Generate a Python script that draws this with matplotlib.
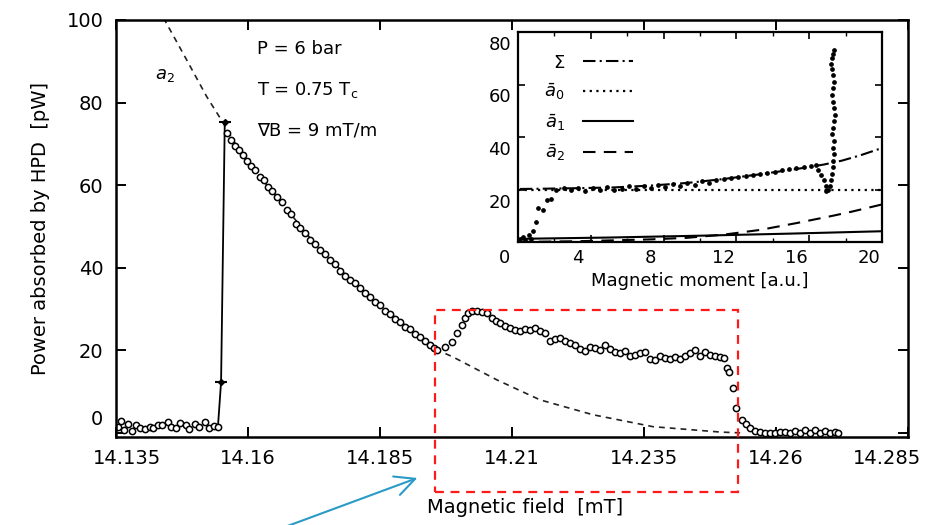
import numpy as np
import matplotlib
matplotlib.use("Agg")
import matplotlib.pyplot as plt
from matplotlib.patches import Rectangle, FancyArrowPatch
from matplotlib.transforms import ScaledTranslation

plt.rcParams["font.family"] = ["DejaVu Sans"]

# --- main plot : power vs magnetic field ---
# baseline before the HPD forms
field_lo = [14.1354, 14.1359, 14.1365, 14.1373, 14.1380, 14.1388, 14.1395, 14.1405,
            14.1414, 14.1421, 14.1429, 14.1438, 14.1448, 14.1455, 14.1463, 14.1472,
            14.1482, 14.1489, 14.1499, 14.1508, 14.1518, 14.1527, 14.1535, 14.1543]
power_lo = [1.5, 2.8, 0.6, 2.2, 0.4, 1.8, 1.2, 1.0, 1.4, 1.1, 1.9, 2.0,
            2.6, 1.5, 1.1, 2.4, 1.9, 1.0, 2.2, 1.5, 2.7, 1.2, 1.7, 1.4]

# jump
jump_field = [14.1543, 14.1549, 14.1556]
jump_power = [1.4, 12.3, 75.3]

# HPD branch
field_hi = [14.1560, 14.1568, 14.1575, 14.1583, 14.1591, 14.1598, 14.1606, 14.1613,
            14.1623, 14.1630, 14.1638, 14.1645, 14.1655, 14.1664, 14.1674, 14.1681,
            14.1691, 14.1698, 14.1708, 14.1717, 14.1727, 14.1736, 14.1746, 14.1755,
            14.1765, 14.1774, 14.1784, 14.1793, 14.1803, 14.1812, 14.1822, 14.1831,
            14.1841, 14.1850, 14.1859, 14.1869, 14.1878, 14.1888, 14.1897, 14.1907,
            14.1916, 14.1926, 14.1935, 14.1945, 14.1952, 14.1958,
            14.1973, 14.1986, 14.1996, 14.2005, 14.2011, 14.2017, 14.2024, 14.2034,
            14.2043, 14.2053, 14.2062, 14.2070, 14.2077, 14.2087, 14.2096, 14.2106,
            14.2115, 14.2125, 14.2134, 14.2144, 14.2153, 14.2162, 14.2172, 14.2181,
            14.2191, 14.2200, 14.2210, 14.2219, 14.2229, 14.2238, 14.2248, 14.2257,
            14.2267, 14.2276, 14.2286, 14.2295, 14.2305, 14.2314, 14.2323, 14.2333,
            14.2342, 14.2352, 14.2361, 14.2371, 14.2380, 14.2390, 14.2399, 14.2409,
            14.2418, 14.2428, 14.2437, 14.2447, 14.2456, 14.2466, 14.2475, 14.2484,
            14.2494, 14.2502, 14.2507, 14.2511, 14.2519, 14.2524, 14.2536, 14.2543,
            14.2551, 14.2560, 14.2570, 14.2579, 14.2589, 14.2598, 14.2608, 14.2617,
            14.2627, 14.2636, 14.2645, 14.2655, 14.2664, 14.2674, 14.2683, 14.2693,
            14.2702, 14.2712, 14.2717]
power_hi = [72.6, 71.0, 69.6, 68.5, 67.3, 65.8, 64.6, 63.6,
            62.0, 61.2, 59.6, 58.6, 57.1, 55.8, 54.0, 53.1,
            50.6, 49.5, 48.4, 46.8, 45.7, 44.3, 43.4, 41.8,
            40.9, 39.2, 38.1, 37.0, 36.2, 35.0, 33.9, 32.9,
            31.7, 31.0, 29.6, 28.8, 27.6, 26.9, 25.7, 25.1,
            24.0, 23.2, 22.3, 21.3, 20.6, 20.1,
            20.8, 22.0, 24.2, 26.2, 27.8, 29.1, 29.5, 29.5,
            29.3, 29.1, 27.8, 27.1, 26.6, 25.9, 25.4, 24.9,
            24.7, 25.2, 24.9, 25.4, 24.7, 24.2, 22.3, 22.8,
            23.0, 22.3, 21.8, 21.3, 20.3, 19.9, 20.8, 20.6,
            20.1, 21.3, 20.3, 19.6, 19.4, 19.9, 18.6, 18.9,
            19.4, 19.6, 17.9, 17.7, 18.6, 18.2, 17.9, 18.4,
            17.9, 18.6, 19.4, 20.1, 18.6, 19.6, 18.9, 18.6,
            18.4, 18.2, 15.7, 14.8, 10.9, 6.1, 3.1, 2.2,
            1.2, 0.5, 0.2, 0.0, 0.0, 0.0, 0.2, 0.2,
            0.0, 0.5, 0.0, 0.7, 0.0, 0.7, 0.0, 0.5,
            0.0, 0.2, 0.0]

# a2 fit (dashed)
fit_field = [14.1440, 14.1484, 14.1522, 14.1547, 14.1591, 14.1655, 14.1736, 14.1831,
             14.1926, 14.1958, 14.1988, 14.2072, 14.2153, 14.2253, 14.2367, 14.2494, 14.2532]
fit_power = [100.5, 90.3, 81.4, 76.3, 66.8, 57.1, 44.3, 32.9,
             23.2, 20.1, 18.4, 12.8, 8.0, 4.4, 1.5, 0.2, 0.0]

field_ticks = [14.135, 14.16, 14.185, 14.21, 14.235, 14.26, 14.285]
field_labels = ["14.135", "14.16", "14.185", "14.21", "14.235", "14.26", "14.285"]
power_ticks = [0, 20, 40, 60, 80, 100]

# --- inset : power vs magnetic moment ---
moment = [0.1, 0.3, 0.4, 0.6, 0.7, 0.8, 1.0, 1.1, 1.4, 1.6, 1.8,
          2.1, 2.5, 2.9, 3.3, 3.7, 4.1, 4.5, 4.9, 5.3, 5.7, 6.1, 6.5, 6.9, 7.3,
          7.7, 8.1, 8.5, 8.9, 9.3, 9.7, 10.1, 10.5, 10.9, 11.3, 11.7, 12.1, 12.5,
          12.9, 13.3, 13.7, 14.1, 14.5, 14.9, 15.3, 15.7, 16.1, 16.4,
          16.5, 16.65, 16.8, 16.95, 17.05, 16.9, 17.15, 17.2,
          17.25, 17.3, 17.3, 17.35, 17.3, 17.35, 17.25, 17.3, 17.35, 17.4,
          17.35, 17.3, 17.25, 17.3, 17.35, 17.3, 17.25, 17.2, 17.25, 17.3, 17.35]
moment_power = [1.0, 1.8, 0.6, 2.5, 1.2, 4.2, 7.6, 13.0, 12.2, 16.0, 16.4,
                19.8, 20.6, 19.9, 20.4, 19.6, 20.5, 19.8, 20.9, 19.7, 20.3, 21.2, 20.1, 21.4, 20.6,
                21.8, 21.0, 22.0, 21.4, 22.6, 21.9, 23.1, 22.5, 23.6, 23.9, 24.5, 24.6, 25.3,
                25.5, 25.8, 26.4, 26.7, 27.4, 27.9, 28.3, 28.6, 29.0, 29.3,
                27.5, 25.5, 23.5, 21.5, 20.0, 19.5, 21.5, 23.5,
                26.0, 28.5, 31.0, 33.5, 36.0, 38.5, 41.0, 43.5, 46.0, 48.5,
                51.0, 53.5, 56.0, 58.5, 61.0, 63.5, 66.0, 68.0, 70.0, 71.5, 73.2]

sigma_x = [0.1, 1.3, 3.3, 5.3, 7.3, 9.3, 11.3, 13.3, 15.3, 16.8, 17.8, 18.8, 20.0]
sigma_y = [20.2, 20.3, 20.5, 20.8, 21.5, 22.5, 24.0, 25.8, 27.8, 29.5, 31.0, 33.0, 35.8]
a0_x = [0, 20]
a0_y = [20, 20]
a1_x = [0, 5, 10, 15, 20]
a1_y = [1.2, 1.7, 2.4, 3.2, 4.1]
a2_x = [0, 3.3, 7.3, 9.3, 11.3, 13.3, 15.3, 17.3, 18.3, 20.0]
a2_y = [0.0, 0.3, 1.0, 1.6, 2.8, 4.6, 7.2, 10.0, 11.5, 14.3]

moment_ticks = [0, 4, 8, 12, 16, 20]
inset_power_ticks = [20, 40, 60, 80]


def decale(label, dx, dy):
	# deplace un label de dx, dy pixels (dpi 100)
	label.set_transform(label.get_transform() + ScaledTranslation(dx / 100.0, dy / 100.0, fig.dpi_scale_trans))


fig = plt.figure(figsize=(9.34, 5.25), dpi=100)

# axes principaux
ax = fig.add_axes([116 / 934, 1 - 437 / 525, 792 / 934, 417 / 525])
ax.plot(fit_field, fit_power, color="#222222", lw=1.2, ls=(0, (3.5, 3)))
ax.plot(jump_field, jump_power, color="k", lw=1.3)
ax.plot(field_lo, power_lo, "o", ms=4.5, mfc="white", mec="k", mew=1.1)
ax.plot(field_hi, power_hi, "o", ms=4.5, mfc="white", mec="k", mew=1.1)
ax.plot(jump_field[1:], jump_power[1:], "D", ms=3, color="k")
ax.plot(jump_field[1:], jump_power[1:], "_", ms=8, mew=1.5, color="k")

ax.set_xlim(14.135, 14.285)
ax.set_ylim(-1, 100)
ax.set_xticks(field_ticks)
ax.set_xticklabels(field_labels)
ax.set_yticks(power_ticks)
ax.tick_params(direction="in", length=7, width=1.4, top=True, right=True, labelsize=14, pad=9)
for s in ax.spines.values():
	s.set_linewidth(1.8)
ax.set_xlabel("Magnetic field  [mT]", fontsize=14, va="top")
ax.xaxis.set_label_coords(0.516, -0.146)
ax.set_ylabel("Power absorbed by HPD  [pW]", fontsize=14, labelpad=12)

xl = ax.get_xticklabels()
decale(xl[0], 11, 0)
decale(xl[-1], -21, 0)
decale(ax.get_yticklabels()[0], 0, 15)

ax.text(0.178, 0.930, "P = 6 bar", transform=ax.transAxes, fontsize=13, va="center")
ax.text(0.178, 0.832, r"T = 0.75 T$_\mathrm{c}$", transform=ax.transAxes, fontsize=13, va="center")
ax.text(0.178, 0.736, "\u2207B = 9 mT/m", transform=ax.transAxes, fontsize=13, va="center")
ax.text(0.062, 0.868, r"$a_2$", transform=ax.transAxes, fontsize=13, va="center", ha="center")

# encart
ins = fig.add_axes([518 / 934, 1 - 242 / 525, 364 / 934, 210 / 525])
ins.plot(sigma_x, sigma_y, color="k", lw=1.5, ls=(0, (6, 2, 1, 2)), label=r"$\Sigma$")
ins.plot(a0_x, a0_y, color="k", lw=1.6, ls=(0, (1, 2)), label=r"$\bar{a}_0$")
ins.plot(a1_x, a1_y, color="k", lw=1.5, label=r"$\bar{a}_1$")
ins.plot(a2_x, a2_y, color="k", lw=1.5, ls=(0, (6, 4)), label=r"$\bar{a}_2$")
ins.plot(moment, moment_power, "o", ms=2.4, color="k")

ins.set_xlim(0, 20)
ins.set_ylim(0, 80)
ins.set_xticks(moment_ticks)
ins.set_xticks(np.arange(0, 21, 2), minor=True)
ins.set_yticks(inset_power_ticks)
ins.tick_params(direction="in", length=5, width=1.2, top=True, right=True, labelsize=13, pad=5)
ins.tick_params(which="minor", direction="in", length=3, width=1.0, top=True)
for s in ins.spines.values():
	s.set_linewidth(1.6)
ins.set_xlabel("Magnetic moment [a.u.]", fontsize=13, labelpad=4)
for l in ins.get_xticklabels():
	decale(l, -13, 0)
for l in ins.get_yticklabels():
	decale(l, 0, -11)

ins.legend(loc="upper left", bbox_to_anchor=(0.028, 0.975), frameon=False, markerfirst=False,
		   handlelength=2.8, fontsize=13, labelspacing=0.55, handletextpad=1.0)

# annotations : rectangle rouge et fleche bleue
fig.add_artist(Rectangle((435 / 934, 1 - 492 / 525), 303 / 934, 182 / 525, transform=fig.transFigure,
						 fill=False, edgecolor="#ff1a1a", lw=1.6, ls=(0, (4, 3))))
fig.add_artist(FancyArrowPatch((274 / 934, -6 / 525), (420 / 934, 1 - 477 / 525), transform=fig.transFigure,
							   arrowstyle="->,head_length=0.65,head_width=0.32", mutation_scale=22,
							   color="#2a9bc7", lw=1.5))

plt.savefig("out.png", dpi=100)
plt.close()
